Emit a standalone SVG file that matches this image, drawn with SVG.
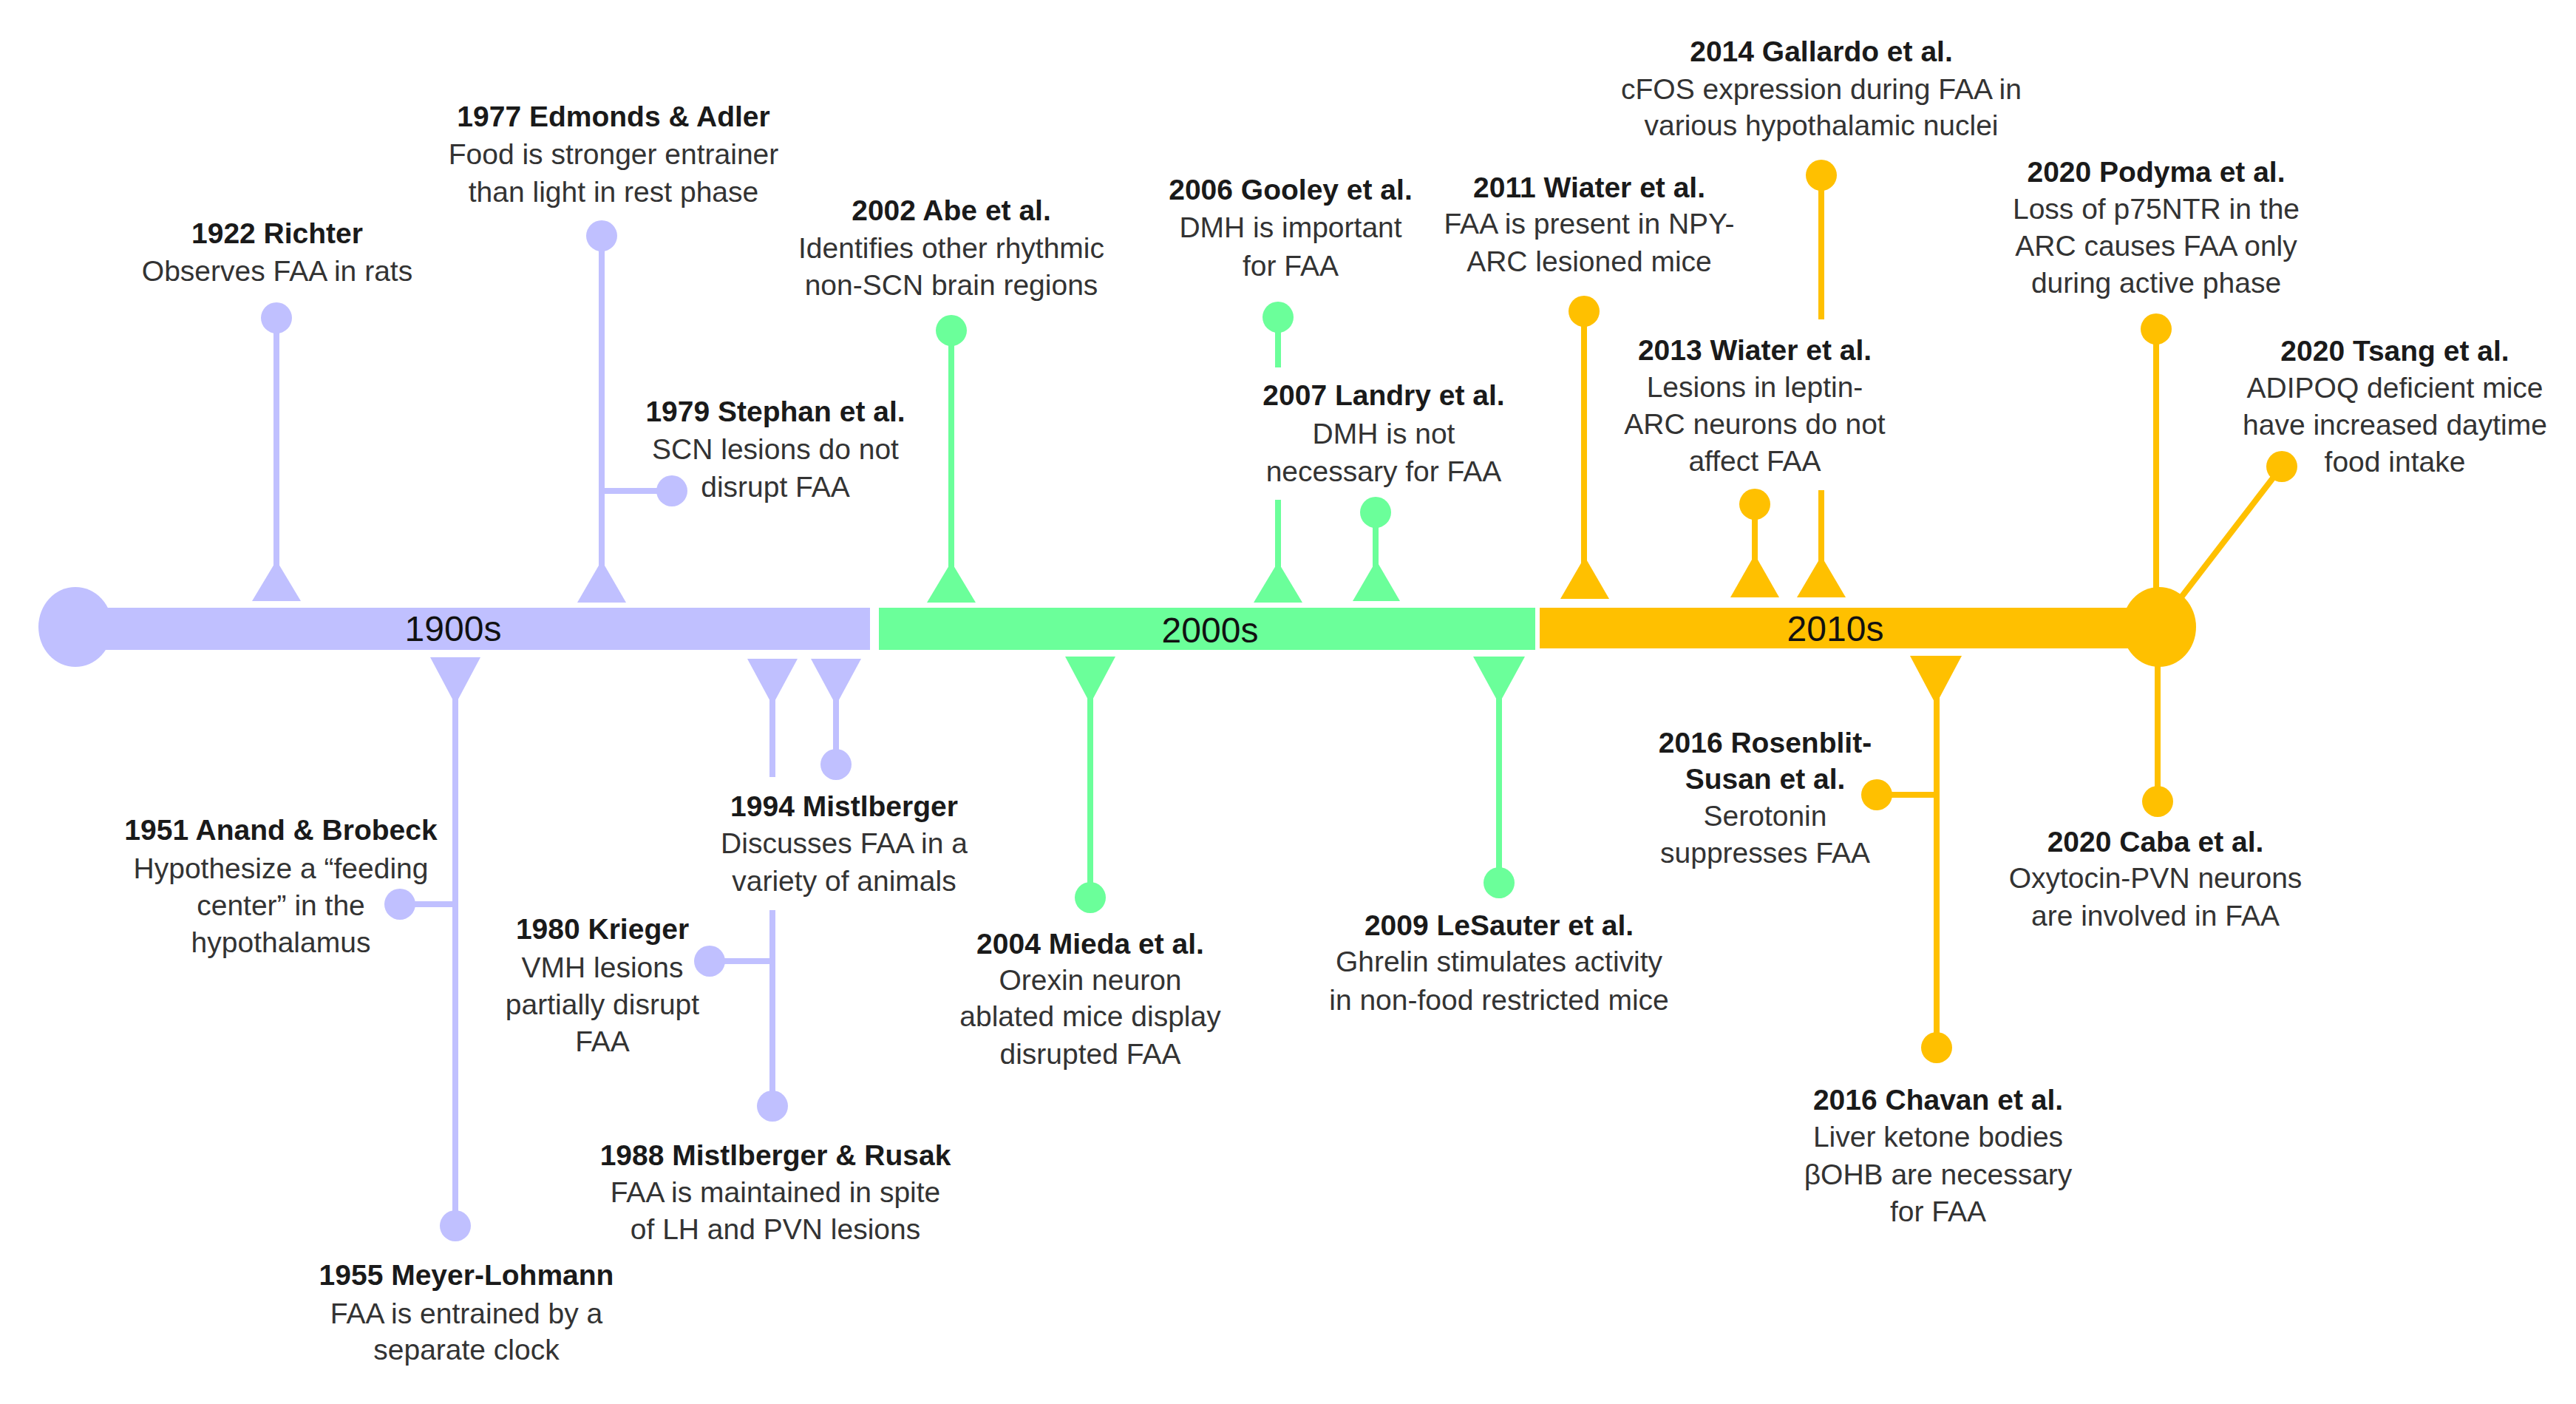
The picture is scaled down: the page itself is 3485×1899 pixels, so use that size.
<svg xmlns="http://www.w3.org/2000/svg" width="3485" height="1899" viewBox="0 0 3485 1899">
<style>
text{font-family:"Liberation Sans",Arial,sans-serif;font-size:39px;text-anchor:middle}
.h{font-weight:bold;fill:#1a1a1a}
.b{fill:#333333}
.dec{font-size:48px;fill:#111111}
.p{fill:#C0C0FF}
.g{fill:#6BFF9A}
.o{fill:#FFC000}
.sp{stroke:#C0C0FF;stroke-width:8;fill:none}
.sg{stroke:#6BFF9A;stroke-width:8;fill:none}
.so{stroke:#FFC000;stroke-width:8;fill:none}
</style>
<rect width="3485" height="1899" fill="#ffffff"/>

<g id="connectors">
  <!-- 1900s -->
  <line class="sp" x1="374" y1="430" x2="374" y2="790"/>
  <line class="sp" x1="814" y1="319" x2="814" y2="790"/>
  <line class="sp" x1="814" y1="664" x2="909" y2="664"/>
  <line class="sp" x1="616" y1="910" x2="616" y2="1658"/>
  <line class="sp" x1="616" y1="1223" x2="541" y2="1223"/>
  <line class="sp" x1="1045" y1="910" x2="1045" y2="1051"/>
  <line class="sp" x1="1045" y1="1231" x2="1045" y2="1496"/>
  <line class="sp" x1="1045" y1="1300" x2="960" y2="1300"/>
  <line class="sp" x1="1131" y1="910" x2="1131" y2="1034"/>
  <!-- 2000s -->
  <line class="sg" x1="1287" y1="447" x2="1287" y2="790"/>
  <line class="sg" x1="1729" y1="429" x2="1729" y2="497"/>
  <line class="sg" x1="1729" y1="676" x2="1729" y2="790"/>
  <line class="sg" x1="1861" y1="693" x2="1861" y2="790"/>
  <line class="sg" x1="1475" y1="910" x2="1475" y2="1214"/>
  <line class="sg" x1="2028" y1="910" x2="2028" y2="1194"/>
  <!-- 2010s -->
  <line class="so" x1="2143" y1="421" x2="2143" y2="790"/>
  <line class="so" x1="2464" y1="237" x2="2464" y2="432"/>
  <line class="so" x1="2464" y1="663" x2="2464" y2="790"/>
  <line class="so" x1="2374" y1="682" x2="2374" y2="790"/>
  <line class="so" x1="2917" y1="445" x2="2917" y2="820"/>
  <line class="so" x1="3087" y1="631" x2="2930" y2="835"/>
  <line class="so" x1="2620" y1="910" x2="2620" y2="1417"/>
  <line class="so" x1="2620" y1="1075" x2="2539" y2="1075"/>
  <line class="so" x1="2919" y1="880" x2="2919" y2="1084"/>
</g>

<g id="timeline">
  <rect class="p" x="100" y="822" width="1077" height="57"/>
  <ellipse class="p" cx="102" cy="848" rx="50" ry="54"/>
  <rect class="g" x="1189" y="822" width="888" height="57"/>
  <rect class="o" x="2083" y="822" width="836" height="55"/>
  <ellipse class="o" cx="2921" cy="848" rx="50" ry="54"/>
  <text class="dec" x="613" y="867">1900s</text>
  <text class="dec" x="1637" y="869">2000s</text>
  <text class="dec" x="2483" y="867">2010s</text>
</g>

<!-- above the line -->
<g id="n1922">
  <polygon class="p" points="341,813 407,813 374,758"/>
  <circle class="p" cx="374" cy="430" r="21"/>
  <text class="h" x="375" y="329">1922 Richter</text>
  <text class="b" x="375" y="380">Observes FAA in rats</text>
</g>
<g id="n1977">
  <polygon class="p" points="781,815 847,815 814,758"/>
  <circle class="p" cx="814" cy="319" r="21"/>
  <text class="h" x="830" y="171">1977 Edmonds &amp; Adler</text>
  <text class="b" x="830" y="222">Food is stronger entrainer</text>
  <text class="b" x="830" y="273">than light in rest phase</text>
</g>
<g id="n1979">
  <circle class="p" cx="909" cy="664" r="21"/>
  <text class="h" x="1049" y="570">1979 Stephan et al.</text>
  <text class="b" x="1049" y="621">SCN lesions do not</text>
  <text class="b" x="1049" y="672">disrupt FAA</text>
</g>
<g id="n2002">
  <polygon class="g" points="1254,815 1320,815 1287,760"/>
  <circle class="g" cx="1287" cy="447" r="21"/>
  <text class="h" x="1287" y="298">2002 Abe et al.</text>
  <text class="b" x="1287" y="349">Identifies other rhythmic</text>
  <text class="b" x="1287" y="399">non-SCN brain regions</text>
</g>
<g id="n2006">
  <polygon class="g" points="1696,815 1762,815 1729,760"/>
  <circle class="g" cx="1729" cy="429" r="21"/>
  <text class="h" x="1746" y="270">2006 Gooley et al.</text>
  <text class="b" x="1746" y="321">DMH is important</text>
  <text class="b" x="1746" y="373">for FAA</text>
</g>
<g id="n2007">
  <polygon class="g" points="1830,813 1894,813 1862,758"/>
  <circle class="g" cx="1861" cy="693" r="21"/>
  <text class="h" x="1872" y="548">2007 Landry et al.</text>
  <text class="b" x="1872" y="600">DMH is not</text>
  <text class="b" x="1872" y="651">necessary for FAA</text>
</g>
<g id="n2011">
  <polygon class="o" points="2111,810 2177,810 2144,753"/>
  <circle class="o" cx="2143" cy="421" r="21"/>
  <text class="h" x="2150" y="267">2011 Wiater et al.</text>
  <text class="b" x="2150" y="316">FAA is present in NPY-</text>
  <text class="b" x="2150" y="367">ARC lesioned mice</text>
</g>
<g id="n2013">
  <polygon class="o" points="2341,808 2407,808 2374,750"/>
  <circle class="o" cx="2374" cy="682" r="21"/>
  <text class="h" x="2374" y="487">2013 Wiater et al.</text>
  <text class="b" x="2374" y="537">Lesions in leptin-</text>
  <text class="b" x="2374" y="587">ARC neurons do not</text>
  <text class="b" x="2374" y="637">affect FAA</text>
</g>
<g id="n2014">
  <polygon class="o" points="2431,808 2497,808 2464,752"/>
  <circle class="o" cx="2464" cy="237" r="21"/>
  <text class="h" x="2464" y="83">2014 Gallardo et al.</text>
  <text class="b" x="2464" y="134">cFOS expression during FAA in</text>
  <text class="b" x="2464" y="183">various hypothalamic nuclei</text>
</g>
<g id="n2020p">
  <circle class="o" cx="2917" cy="445" r="21"/>
  <text class="h" x="2917" y="246">2020 Podyma et al.</text>
  <text class="b" x="2917" y="296">Loss of p75NTR in the</text>
  <text class="b" x="2917" y="346">ARC causes FAA only</text>
  <text class="b" x="2917" y="396">during active phase</text>
</g>
<g id="n2020t">
  <circle class="o" cx="3087" cy="631" r="21"/>
  <text class="h" x="3240" y="488">2020 Tsang et al.</text>
  <text class="b" x="3240" y="538">ADIPOQ deficient mice</text>
  <text class="b" x="3240" y="588">have increased daytime</text>
  <text class="b" x="3240" y="638">food intake</text>
</g>

<!-- below the line -->
<g id="n1955">
  <polygon class="p" points="582,889 650,889 616,953"/>
  <circle class="p" cx="616" cy="1658" r="21"/>
  <text class="h" x="631" y="1738">1955 Meyer-Lohmann</text>
  <text class="b" x="631" y="1790">FAA is entrained by a</text>
  <text class="b" x="631" y="1839">separate clock</text>
</g>
<g id="n1951">
  <circle class="p" cx="541" cy="1223" r="21"/>
  <text class="h" x="380" y="1136">1951 Anand &amp; Brobeck</text>
  <text class="b" x="380" y="1188">Hypothesize a “feeding</text>
  <text class="b" x="380" y="1238">center” in the</text>
  <text class="b" x="380" y="1288">hypothalamus</text>
</g>
<g id="n1988">
  <polygon class="p" points="1011,891 1079,891 1045,954"/>
  <circle class="p" cx="1045" cy="1496" r="21"/>
  <text class="h" x="1049" y="1576">1988 Mistlberger &amp; Rusak</text>
  <text class="b" x="1049" y="1626">FAA is maintained in spite</text>
  <text class="b" x="1049" y="1676">of LH and PVN lesions</text>
</g>
<g id="n1980">
  <circle class="p" cx="960" cy="1300" r="21"/>
  <text class="h" x="815" y="1270">1980 Krieger</text>
  <text class="b" x="815" y="1322">VMH lesions</text>
  <text class="b" x="815" y="1372">partially disrupt</text>
  <text class="b" x="815" y="1422">FAA</text>
</g>
<g id="n1994">
  <polygon class="p" points="1097,891 1165,891 1131,954"/>
  <circle class="p" cx="1131" cy="1034" r="21"/>
  <text class="h" x="1142" y="1104">1994 Mistlberger</text>
  <text class="b" x="1142" y="1154">Discusses FAA in a</text>
  <text class="b" x="1142" y="1205">variety of animals</text>
</g>
<g id="n2004">
  <polygon class="g" points="1441,888 1509,888 1475,952"/>
  <circle class="g" cx="1475" cy="1214" r="21"/>
  <text class="h" x="1475" y="1290">2004 Mieda et al.</text>
  <text class="b" x="1475" y="1339">Orexin neuron</text>
  <text class="b" x="1475" y="1388">ablated mice display</text>
  <text class="b" x="1475" y="1439">disrupted FAA</text>
</g>
<g id="n2009">
  <polygon class="g" points="1993,888 2063,888 2028,952"/>
  <circle class="g" cx="2028" cy="1194" r="21"/>
  <text class="h" x="2028" y="1265">2009 LeSauter et al.</text>
  <text class="b" x="2028" y="1314">Ghrelin stimulates activity</text>
  <text class="b" x="2028" y="1366">in non-food restricted mice</text>
</g>
<g id="n2016c">
  <polygon class="o" points="2584,887 2654,887 2619,953"/>
  <circle class="o" cx="2620" cy="1417" r="21"/>
  <text class="h" x="2622" y="1501">2016 Chavan et al.</text>
  <text class="b" x="2622" y="1551">Liver ketone bodies</text>
  <text class="b" x="2622" y="1602">βOHB are necessary</text>
  <text class="b" x="2622" y="1652">for FAA</text>
</g>
<g id="n2016r">
  <circle class="o" cx="2539" cy="1075" r="21"/>
  <text class="h" x="2388" y="1018">2016 Rosenblit-</text>
  <text class="h" x="2388" y="1067">Susan et al.</text>
  <text class="b" x="2388" y="1117">Serotonin</text>
  <text class="b" x="2388" y="1167">suppresses FAA</text>
</g>
<g id="n2020c">
  <circle class="o" cx="2919" cy="1084" r="21"/>
  <text class="h" x="2916" y="1152">2020 Caba et al.</text>
  <text class="b" x="2916" y="1201">Oxytocin-PVN neurons</text>
  <text class="b" x="2916" y="1252">are involved in FAA</text>
</g>
</svg>
